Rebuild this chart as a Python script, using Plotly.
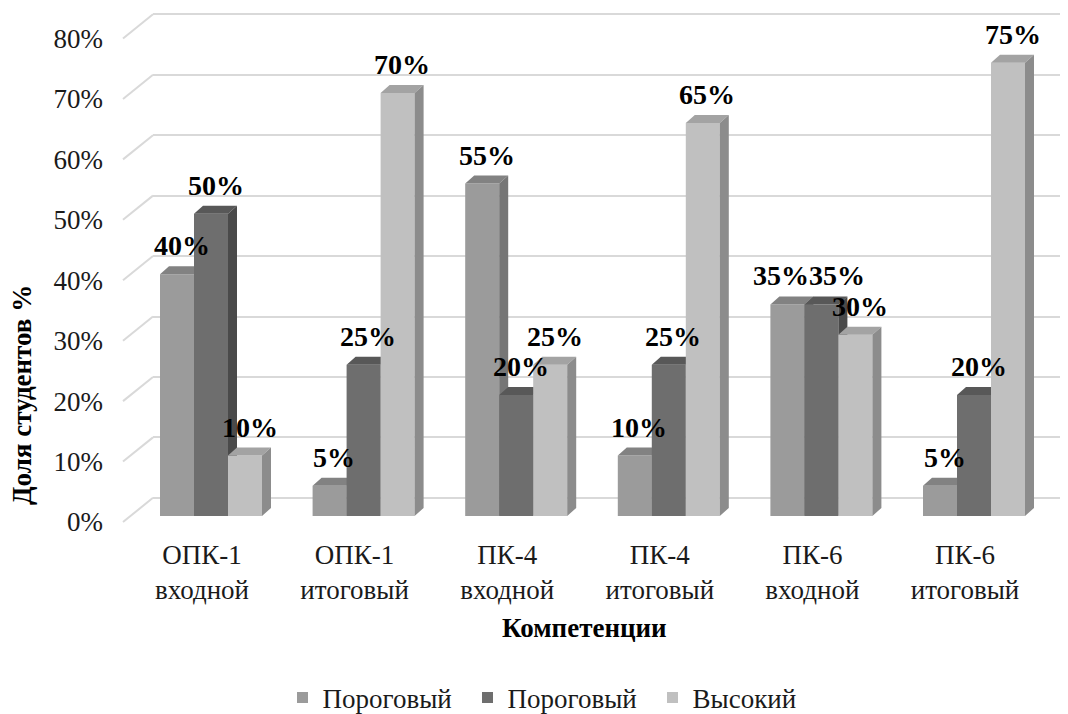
import plotly.graph_objects as go

# ---------------- data ----------------
categories = ["ОПК-1<br>входной", "ОПК-1<br>итоговый", "ПК-4<br>входной",
              "ПК-4<br>итоговый", "ПК-6<br>входной", "ПК-6<br>итоговый"]
series_names = ["Пороговый", "Пороговый", "Высокий"]
porog_1 = [40, 5, 55, 10, 35, 5]
porog_2 = [50, 25, 20, 25, 35, 20]
vysokiy = [10, 70, 25, 65, 30, 75]
y_ticks = [0, 10, 20, 30, 40, 50, 60, 70, 80]
x_title = "Компетенции"
y_title = "Доля студентов %"

series_values = [porog_1, porog_2, vysokiy]

# ---------------- styles / geometry ----------------
FONT = "Liberation Serif"
front_colors = ["#9b9b9b", "#6e6e6e", "#c0c0c0"]
top_colors = ["#828282", "#585858", "#a3a3a3"]
side_colors = ["#767676", "#4a4a4a", "#8c8c8c"]
grid_color = "#d9d9d9"

OFF = 8                                # page body margin
W_FIG, H_FIG = 1068 - OFF, 714 - OFF
L, R, T = 123 - OFF, 0, 2
plot_bottom = 536 - OFF
B = H_FIG - plot_bottom
plot_w = W_FIG - L - R
plot_h = H_FIG - T - B
px_per_cat = 152.6
first_cat_px = 202 - OFF
zero_px = 522 - OFF
px_per_pct = 6.044
back_dx_px, back_dy_pct = 30, 4.0

xmin = -(first_cat_px - L) / px_per_cat
xmax = xmin + plot_w / px_per_cat
y_lo = (zero_px - (T + plot_h)) / px_per_pct
y_hi = (zero_px - T) / px_per_pct

bar_w = 34 / px_per_cat
grp_shift = 9 / px_per_cat
ddx = 9 / px_per_cat
ddy = 8 / px_per_pct
base = 1.0
label_w_px = 56


def px_x(p):
    return (p - OFF - L) / plot_w


def px_y(p):
    return (T + plot_h - (p - OFF)) / plot_h


fig = go.Figure()
fig.add_trace(go.Scatter(x=[None], y=[None], xaxis="x", yaxis="y",
                         showlegend=False, hoverinfo="skip"))

annotations = []
for s, (vals, name) in enumerate(zip(series_values, series_names)):
    fx, fy, tx, ty, sx, sy = [], [], [], [], [], []
    for i, v in enumerate(vals):
        xl = i + grp_shift - 1.5 * bar_w + s * bar_w
        xr = xl + bar_w
        top = base + v
        fx += [xl, xr, xr, xl, xl, None]
        fy += [base, base, top, top, base, None]
        tx += [xl, xr, xr + ddx, xl + ddx, xl, None]
        ty += [top, top, top + ddy, top + ddy, top, None]
        sx += [xr, xr + ddx, xr + ddx, xr, xr, None]
        sy += [base, base + ddy, top + ddy, top, base, None]
        shift = 0
        bar_px = bar_w * px_per_cat
        push = (label_w_px - bar_px) / 2
        if s > 0 and abs(series_values[s - 1][i] - v) < 4:
            shift += push
        if s < len(series_values) - 1 and abs(series_values[s + 1][i] - v) < 4:
            shift -= push
        annotations.append(dict(
            x=(xl + xr) / 2 + ddx / 2, y=top + ddy, xref="x2", yref="y2",
            text=f"{v}%", showarrow=False, xanchor="center", yanchor="bottom",
            xshift=shift, yshift=3,
            font=dict(family=FONT, size=28, color="#000000", weight="bold")))
    common = dict(xaxis="x2", yaxis="y2", mode="lines", line=dict(width=0),
                  fill="toself", showlegend=False, hoverinfo="skip")
    fig.add_trace(go.Scatter(x=fx, y=fy, fillcolor=front_colors[s], **common))
    fig.add_trace(go.Scatter(x=tx, y=ty, fillcolor=top_colors[s], **common))
    fig.add_trace(go.Scatter(x=sx, y=sy, fillcolor=side_colors[s], **common))
    fig.add_trace(go.Scatter(x=[None], y=[None], xaxis="x2", yaxis="y2", mode="markers",
                             marker=dict(symbol="square", size=11, color=front_colors[s]),
                             name=name, showlegend=True))

d0 = back_dx_px / plot_w
for v in y_ticks:
    fig.add_shape(type="line", xref="paper", yref="y2", x0=0, x1=d0,
                  y0=v, y1=v + back_dy_pct, line=dict(color=grid_color, width=2),
                  layer="below")

annotations.append(dict(text=y_title, xref="paper", yref="paper",
                        x=px_x(22), y=px_y(395),
                        textangle=-90, showarrow=False, xanchor="center", yanchor="middle",
                        font=dict(family=FONT, size=27, weight="bold", color="#000")))
annotations.append(dict(text=x_title, xref="paper", yref="paper",
                        x=px_x(584), y=px_y(628),
                        showarrow=False, xanchor="center", yanchor="middle",
                        font=dict(family=FONT, size=27, weight="bold", color="#000")))

fig.update_layout(
    width=W_FIG, height=H_FIG,
    margin=dict(l=L, r=R, t=T, b=B, autoexpand=False),
    paper_bgcolor="white", plot_bgcolor="rgba(0,0,0,0)",
    font=dict(family=FONT, size=26, color="#1a1a1a"),
    xaxis=dict(domain=[d0, 1], range=[xmin, xmax],
               showgrid=False, showticklabels=False, zeroline=False, showline=False,
               anchor="y", fixedrange=True),
    yaxis=dict(domain=[0, 1], range=[y_lo - back_dy_pct, y_hi - back_dy_pct],
               tickvals=y_ticks, showgrid=True, gridcolor=grid_color, gridwidth=2,
               showticklabels=False, zeroline=False, showline=False, anchor="x"),
    xaxis2=dict(domain=[0, 1], range=[xmin, xmax], anchor="y2",
                tickvals=list(range(len(categories))), ticktext=categories,
                showgrid=False, zeroline=False, showline=False, ticks="",
                tickfont=dict(family=FONT, size=27)),
    yaxis2=dict(domain=[0, 1], range=[y_lo, y_hi], anchor="x2",
                tickvals=y_ticks, ticktext=[f"{v}%" for v in y_ticks],
                showgrid=False, zeroline=False, showline=False, ticks="",
                ticklabelstandoff=19, tickfont=dict(family=FONT, size=27)),
    legend=dict(orientation="h", xref="container", yref="container",
                x=(560 - OFF) / W_FIG, y=1 - (698 - OFF) / H_FIG,
                xanchor="center", yanchor="middle",
                entrywidth=140, entrywidthmode="pixels",
                font=dict(family=FONT, size=27), itemclick=False),
    annotations=annotations,
)

fig.write_html("out.html")
